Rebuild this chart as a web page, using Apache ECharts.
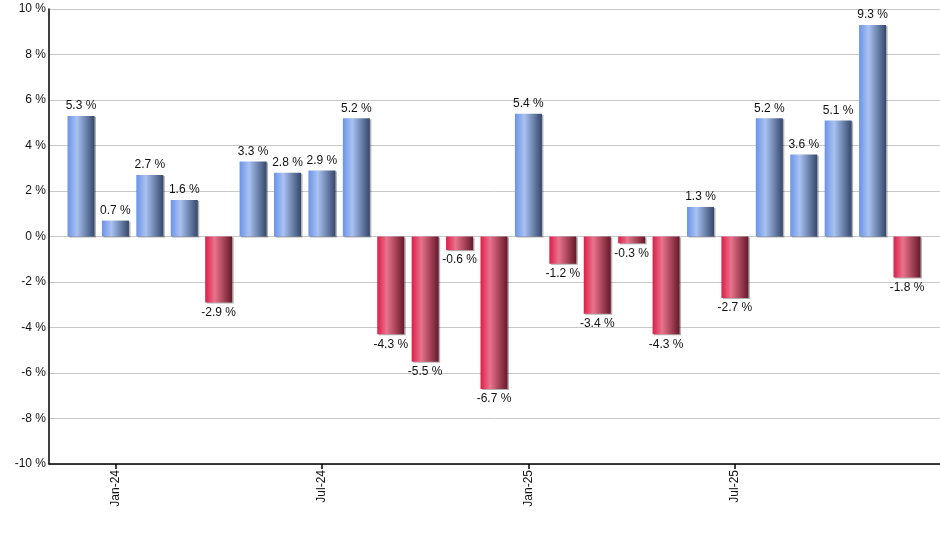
<!DOCTYPE html>
<html><head><meta charset="utf-8">
<script src="https://cdn.jsdelivr.net/npm/echarts@6/dist/echarts.min.js"></script>
<style>html,body{margin:0;padding:0;background:#fff}#c{width:940px;height:550px}</style>
</head><body><div id="c"></div>
<script>
const months = ['Dec-23','Jan-24','Feb-24','Mar-24','Apr-24','May-24','Jun-24','Jul-24','Aug-24','Sep-24','Oct-24','Nov-24','Dec-24','Jan-25','Feb-25','Mar-25','Apr-25','May-25','Jun-25','Jul-25','Aug-25','Sep-25','Oct-25','Nov-25','Dec-25'];
const returns = [5.3,0.7,2.7,1.6,-2.9,3.3,2.8,2.9,5.2,-4.3,-5.5,-0.6,-6.7,5.4,-1.2,-3.4,-0.3,-4.3,1.3,-2.7,5.2,3.6,5.1,9.3,-1.8];
const yTicks = {min:-10,max:10,step:2};

const font = 'Liberation Sans, Arial, sans-serif';
const blueGrad = {type:'linear',x:0,y:0,x2:1,y2:0,colorStops:[
  {offset:0,color:'#6b93e6'},{offset:0.35,color:'#a9c2f2'},{offset:1,color:'#34486c'}]};
const redGrad = {type:'linear',x:0,y:0,x2:1,y2:0,colorStops:[
  {offset:0,color:'#dc1e48'},{offset:0.35,color:'#e9738d'},{offset:1,color:'#671829'}]};
const showIdx = i => /^(Jan|Jul)/.test(months[i]);

const chart = echarts.init(document.getElementById('c'), null, {renderer:'canvas'});
chart.setOption({
  animation:false,
  grid:[
    {left:49,right:0,top:9,bottom:86},
    {left:63.8,right:15.8,top:9,bottom:86}
  ],
  xAxis:[
    {gridIndex:0,type:'category',position:'bottom',data:months,axisLine:{onZero:false,lineStyle:{color:'#000',width:1.5}},axisTick:{show:false},axisLabel:{show:false}},
    {gridIndex:1,type:'category',position:'bottom',data:months,axisLine:{show:false,onZero:false},
     axisTick:{show:true,alignWithLabel:true,length:5,interval:(i)=>showIdx(i),lineStyle:{color:'#000',width:1.5}},
     axisLabel:{interval:(i)=>showIdx(i),rotate:90,fontFamily:font,fontSize:12,color:'#111',margin:6}}
  ],
  yAxis:[
    {gridIndex:0,type:'value',min:yTicks.min,max:yTicks.max,interval:yTicks.step,
     axisLine:{show:true,onZero:false,lineStyle:{color:'#000',width:1.5}},axisTick:{show:false},
     axisLabel:{formatter:'{value} %',fontFamily:font,fontSize:12,color:'#111',margin:3},
     splitLine:{lineStyle:{color:'#c8c8c8',width:1}}},
    {gridIndex:1,type:'value',min:yTicks.min,max:yTicks.max,interval:yTicks.step,show:false,splitLine:{show:false}}
  ],
  series:[{
    type:'bar',xAxisIndex:1,yAxisIndex:1,barWidth:27,
    data:returns.map(v=>({value:v,
      itemStyle:{color:v>=0?blueGrad:redGrad,shadowColor:'rgba(0,0,0,0.3)',shadowOffsetX:1.5,shadowOffsetY:1,shadowBlur:0},
      label:{position:v>=0?'top':'bottom'}})),
    label:{show:true,formatter:p=>p.value.toFixed(1)+' %',fontFamily:font,fontSize:12,color:'#111',distance:4}
  }]
});
</script></body></html>
